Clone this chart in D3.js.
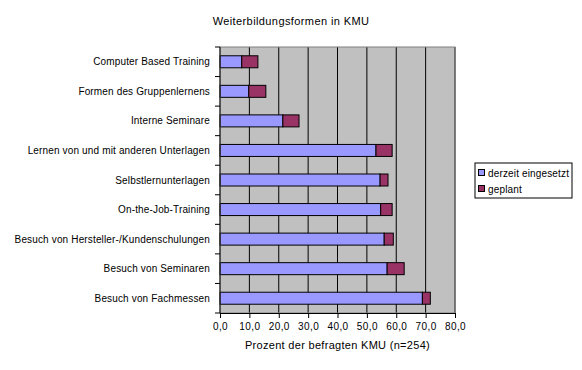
<!DOCTYPE html>
<html>
<head>
<meta charset="utf-8">
<script src="https://cdn.jsdelivr.net/npm/d3@7"></script>
<style>
  body { margin: 0; background: #fff; }
  text { font-family: "Liberation Sans", Arial, sans-serif; font-size: 10px; fill: #000; letter-spacing: 0.15px; }
</style>
</head>
<body>
<div id="chart"></div>
<script>
// data
var categories = ['Computer Based Training', 'Formen des Gruppenlernens', 'Interne Seminare',
    'Lernen von und mit anderen Unterlagen', 'Selbstlernunterlagen', 'On-the-Job-Training',
    'Besuch von Hersteller-/Kundenschulungen', 'Besuch von Seminaren', 'Besuch von Fachmessen'];
var derzeit = [7.4, 9.8, 21.4, 53.1, 54.5, 54.7, 55.9, 56.9, 68.9];
var geplant = [5.5, 5.8, 5.5, 5.5, 2.7, 3.9, 3.1, 5.8, 2.7];
var seriesNames = ['derzeit eingesetzt', 'geplant'];
var xTicks = [0, 10, 20, 30, 40, 50, 60, 70, 80];

var width = 582, height = 370;
var margin = {top: 47, right: 127, bottom: 57, left: 220};
var w = width - margin.left - margin.right,
    h = height - margin.top - margin.bottom;

var svg = d3.select('#chart').append('svg')
    .attr('width', width)
    .attr('height', height);

// title
svg.append('text')
    .attr('x', 291).attr('y', 25)
    .attr('text-anchor', 'middle')
    .style('font-size', '11px').style('letter-spacing', '0.4px')
    .text('Weiterbildungsformen in KMU');

var g = svg.append('g')
    .attr('transform', 'translate(' + margin.left + ',' + margin.top + ')');

var x = d3.scaleLinear().domain([0, 80]).range([0, w]);
var y = d3.scaleBand().domain(categories).range([0, h]);

// plot area
g.append('rect')
    .attr('width', w).attr('height', h)
    .attr('fill', '#c0c0c0');

// gridlines
g.selectAll('.grid')
    .data(xTicks.slice(1))
    .enter().append('line')
    .attr('x1', function(d) { return x(d); })
    .attr('x2', function(d) { return x(d); })
    .attr('y1', 0).attr('y2', h)
    .attr('stroke', '#000').attr('stroke-width', 1);

var barH = 12;
// blue bars
g.selectAll('.b1')
    .data(categories)
    .enter().append('rect')
    .attr('x', x(0))
    .attr('y', function(d) { return y(d) + y.bandwidth() / 2 - barH / 2; })
    .attr('width', function(d, i) { return x(derzeit[i]) - x(0); })
    .attr('height', barH)
    .attr('fill', '#9999ff').attr('stroke', '#000').attr('stroke-width', 1);

// maroon bars
g.selectAll('.b2')
    .data(categories)
    .enter().append('rect')
    .attr('x', function(d, i) { return x(derzeit[i]); })
    .attr('y', function(d) { return y(d) + y.bandwidth() / 2 - barH / 2; })
    .attr('width', function(d, i) { return x(derzeit[i] + geplant[i]) - x(derzeit[i]); })
    .attr('height', barH)
    .attr('fill', '#993366').attr('stroke', '#000').attr('stroke-width', 1);

// plot border
g.append('rect')
    .attr('width', w).attr('height', h)
    .attr('fill', 'none').attr('stroke', '#808080').attr('stroke-width', 1);

// x axis
var xAxis = g.append('g')
    .attr('transform', 'translate(0,' + h + ')')
    .call(d3.axisBottom(x).tickValues(xTicks).tickSize(5).tickSizeOuter(0)
        .tickFormat(function(d) { return d3.format('.1f')(d).replace('.', ','); }));
xAxis.select('.domain').attr('stroke', '#000');
xAxis.selectAll('text').attr('dy', '0.9em').style('font-size', '10px').style('letter-spacing', '0.4px');

// y axis - ticks at category boundaries
var yAxis = g.append('g');
yAxis.append('line')
    .attr('x1', 0).attr('x2', 0).attr('y1', 0).attr('y2', h)
    .attr('stroke', '#000');
yAxis.selectAll('.tk')
    .data(d3.range(categories.length + 1))
    .enter().append('line')
    .attr('x1', -5).attr('x2', 0)
    .attr('y1', function(i) { return i * y.step(); })
    .attr('y2', function(i) { return i * y.step(); })
    .attr('stroke', '#000');
yAxis.selectAll('.lbl')
    .data(categories)
    .enter().append('text')
    .attr('x', -10)
    .attr('y', function(d) { return y(d) + y.bandwidth() / 2; })
    .attr('dy', '0.35em')
    .attr('text-anchor', 'end')
    .text(function(d) { return d; });

// axis title
svg.append('text')
    .attr('x', margin.left + w / 2).attr('y', 349)
    .attr('text-anchor', 'middle')
    .style('font-size', '11px').style('letter-spacing', '0.3px')
    .text('Prozent der befragten KMU (n=254)');

// legend
var leg = svg.append('g').attr('transform', 'translate(475,163)');
leg.append('rect')
    .attr('width', 97).attr('height', 35)
    .attr('fill', '#fff').attr('stroke', '#000');
var colors = ['#9999ff', '#993366'];
seriesNames.forEach(function(s, i) {
    leg.append('rect')
        .attr('x', 3.5).attr('y', 6.5 + i * 16)
        .attr('width', 6).attr('height', 6)
        .attr('fill', colors[i]).attr('stroke', '#000');
    leg.append('text')
        .attr('x', 13).attr('y', 10 + i * 16)
        .attr('dy', '0.35em')
        .text(s);
});
</script>
</body>
</html>
